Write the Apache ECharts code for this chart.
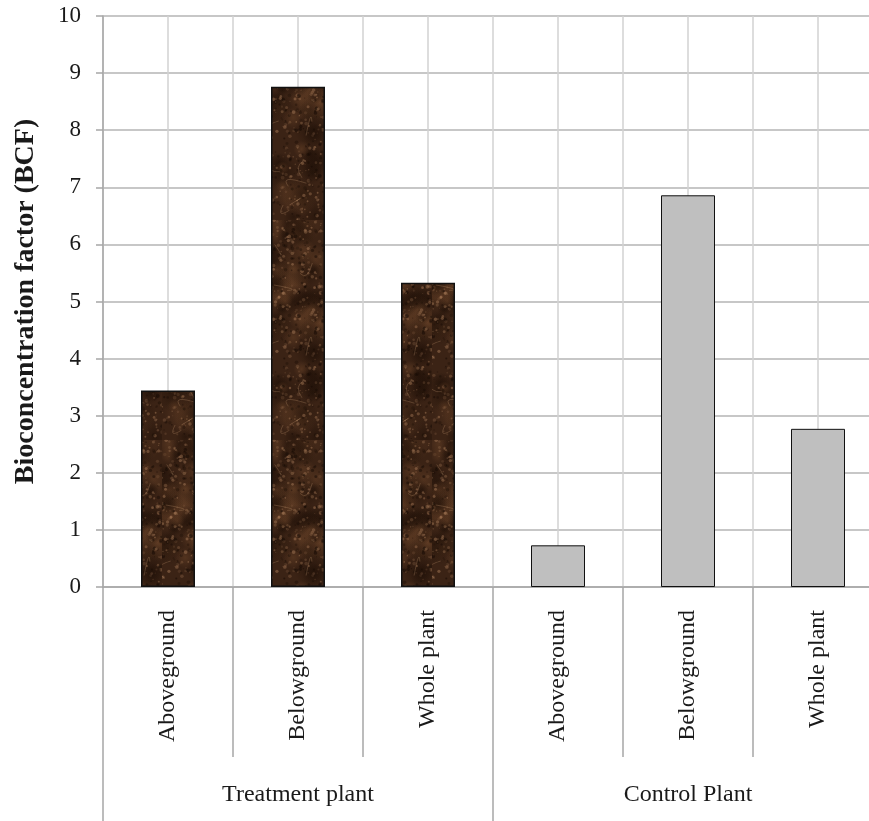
<!DOCTYPE html>
<html>
<head>
<meta charset="utf-8">
<script src="https://cdn.jsdelivr.net/npm/echarts@6/dist/echarts.min.js"></script>
<style>html,body{margin:0;padding:0;background:#fff;overflow:hidden;}#c{width:883px;height:821px;}</style>
</head>
<body>
<div id="c"></div>
<script>
var categories = ['Aboveground', 'Belowground', 'Whole plant', 'Aboveground', 'Belowground', 'Whole plant'];
var groups = ['Treatment plant', 'Control Plant'];
var groupOfCategory = [0, 0, 0, 1, 1, 1];
var values = [3.44, 8.76, 5.33, 0.73, 6.86, 2.77];
var yTicks = [0, 1, 2, 3, 4, 5, 6, 7, 8, 9, 10];

// decorative mottled brown texture (deterministic)
function makeTexture() {
  var c = document.createElement('canvas');
  c.width = 54; c.height = 220;
  var g = c.getContext('2d');
  g.fillStyle = '#3b2315';
  g.fillRect(0, 0, c.width, c.height);
  var s = 987654;
  function r() { s = (s * 1103515245 + 12345) % 2147483648; return s / 2147483648; }
  var i, x, y, rad, grd;
  for (i = 0; i < 60; i++) {
    x = r() * c.width; y = r() * c.height; rad = 6 + r() * 14;
    grd = g.createRadialGradient(x, y, 0, x, y, rad);
    var dark = r() > 0.5;
    grd.addColorStop(0, dark ? 'rgba(28,14,6,0.55)' : 'rgba(110,70,42,0.45)');
    grd.addColorStop(1, dark ? 'rgba(28,14,6,0)' : 'rgba(110,70,42,0)');
    g.fillStyle = grd;
    g.beginPath(); g.arc(x, y, rad, 0, Math.PI * 2); g.fill();
  }
  for (i = 0; i < 500; i++) {
    x = r() * c.width; y = r() * c.height; rad = 0.5 + r() * 1.4;
    g.fillStyle = r() > 0.4 ? 'rgba(170,125,90,' + (0.15 + r() * 0.35) + ')' : 'rgba(20,10,4,' + (0.2 + r() * 0.35) + ')';
    g.beginPath(); g.arc(x, y, rad, 0, Math.PI * 2); g.fill();
  }
  g.strokeStyle = 'rgba(170,130,95,0.35)';
  g.lineWidth = 1;
  for (i = 0; i < 10; i++) {
    x = r() * c.width; y = r() * c.height;
    g.beginPath(); g.moveTo(x, y);
    g.quadraticCurveTo(x + (r() - 0.5) * 30, y + (r() - 0.5) * 30, x + (r() - 0.5) * 40, y + (r() - 0.5) * 40);
    g.stroke();
  }
  return c;
}
var tex = makeTexture();

var chart = echarts.init(document.getElementById('c'), null, {renderer: 'canvas'});
var serif = '"Liberation Serif", "Times New Roman", serif';
var barData = values.map(function (v, i) {
  return {
    value: v,
    itemStyle: groupOfCategory[i] === 0
      ? {color: {image: tex, repeat: 'repeat'}, borderColor: '#111', borderWidth: 1.5}
      : {color: '#bfbfbf', borderColor: '#111', borderWidth: 1}
  };
});

chart.setOption({
  animation: false,
  grid: {left: 103, top: 16, width: 780, height: 571, containLabel: false},
  xAxis: [
    {
      type: 'category', data: categories, position: 'bottom',
      axisLine: {show: true, lineStyle: {color: '#a6a6a6', width: 1.5}},
      axisTick: {show: true, interval: 0, length: 170, lineStyle: {color: '#a6a6a6', width: 1.5}},
      axisLabel: {interval: 0, rotate: 90, margin: 23, fontFamily: serif, fontSize: 24, color: '#1a1a1a'},
      splitLine: {show: false}
    },
    {
      type: 'category', data: groups, position: 'bottom', offset: 0,
      axisLine: {show: false},
      axisTick: {show: true, interval: 0, length: 240, lineStyle: {color: '#a6a6a6', width: 1.5}},
      axisLabel: {interval: 0, margin: 196, fontFamily: serif, fontSize: 24, color: '#1a1a1a'},
      splitLine: {show: false}
    },
    {
      type: 'value', position: 'top', min: 0, max: 12, interval: 1,
      axisLine: {show: false}, axisTick: {show: false}, axisLabel: {show: false},
      splitLine: {show: true, lineStyle: {color: '#d2d2d2', width: 1.5}}
    }
  ],
  yAxis: {
    type: 'value', min: yTicks[0], max: yTicks[yTicks.length - 1], interval: 1,
    name: 'Bioconcentration factor (BCF)', nameLocation: 'middle', nameRotate: 90, nameGap: 63,
    nameTextStyle: {fontFamily: serif, fontSize: 28, fontWeight: 'bold', color: '#1a1a1a'},
    axisLine: {show: true, lineStyle: {color: '#a6a6a6', width: 1.5}},
    axisTick: {show: true, length: 7, lineStyle: {color: '#a6a6a6', width: 1.5}},
    axisLabel: {margin: 22, fontFamily: serif, fontSize: 23, color: '#1a1a1a'},
    splitLine: {show: true, lineStyle: {color: '#b4b4b4', width: 1.5}}
  },
  series: [{
    type: 'bar', xAxisIndex: 0, barWidth: 54, data: barData
  }]
});
</script>
</body>
</html>
